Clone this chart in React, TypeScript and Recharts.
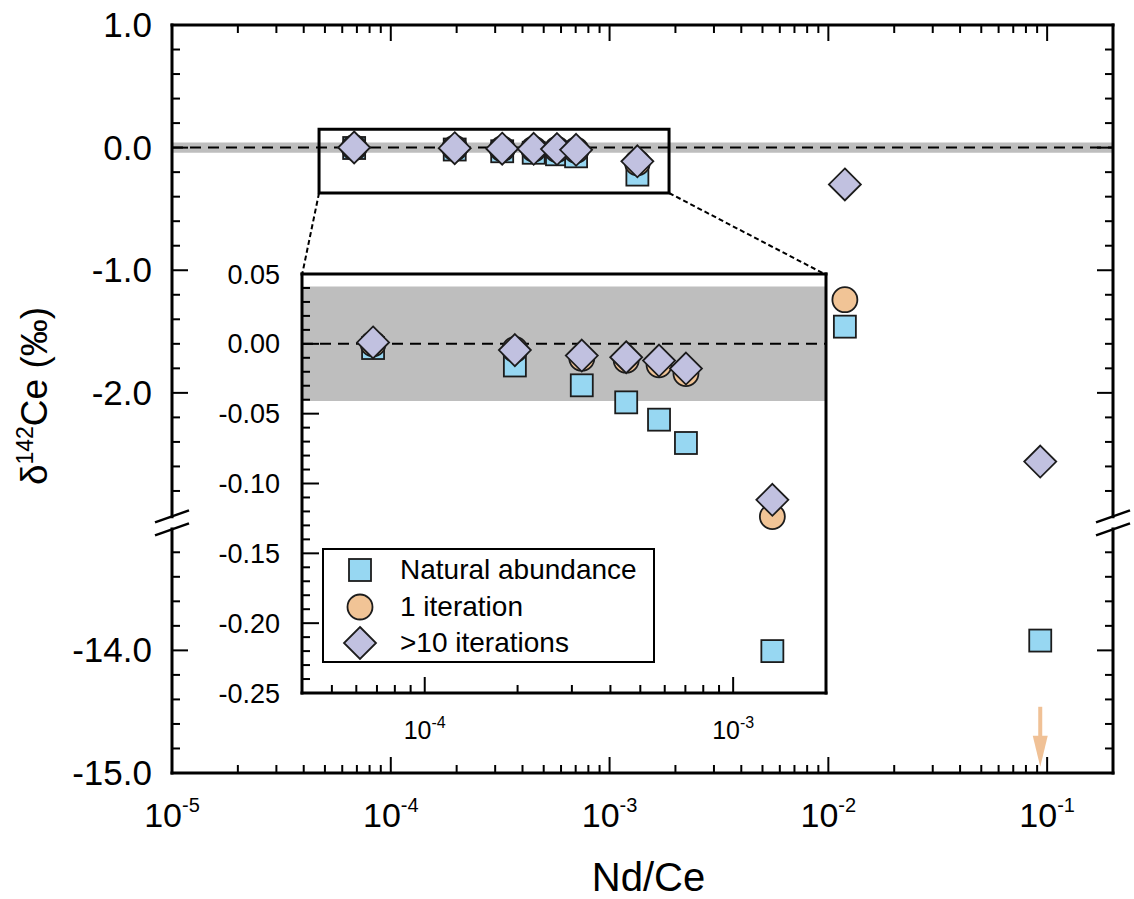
import React from 'react'
import { ScatterChart, Scatter, XAxis, YAxis, ReferenceArea, ReferenceLine, Legend, Label } from 'recharts'

const FONT = 'Arial, "Liberation Sans", Helvetica, sans-serif'

// Nd/Ce of the doped Ce standards
const ndCe = [6.8e-5, 1.96e-4, 3.23e-4, 4.5e-4, 5.75e-4, 7.03e-4, 1.34e-3, 1.19e-2, 9.3e-2]
// δ142Ce (‰) for each cleanup
const naturalAbundance = [-0.003, -0.0155, -0.0297, -0.0419, -0.0543, -0.071, -0.22, -1.46, -13.92]
const oneIteration = [0.0, -0.004, -0.0103, -0.0117, -0.015, -0.0213, -0.1237, -1.24, null]
const tenIterations = [0.001, -0.0045, -0.0084, -0.0096, -0.012, -0.0177, -0.1117, -0.3, -2.56]
// 1 iteration at the highest Nd/Ce is below -15 ‰ -> arrow
const offScaleX = [9.3e-2]
const offScaleY = [-14.46]

const bandHalf = 0.041 // external reproducibility

const xMajorMain = [1e-5, 1e-4, 1e-3, 1e-2, 1e-1]
const xMajorInset = [1e-4, 1e-3]
const minorMult = [2, 3, 4, 5, 6, 7, 8, 9]
const yMajorMain = [1, 0, -1, -2, -14, -15]
const yMinorMain = [0.8, 0.6, 0.4, 0.2, -0.2, -0.4, -0.6, -0.8, -1.2, -1.4, -1.6, -1.8, -2.2, -2.4, -2.6, -2.8,
  -13.2, -13.4, -13.6, -13.8, -14.2, -14.4, -14.6, -14.8]
const yMajorInset = [0.05, 0, -0.05, -0.1, -0.15, -0.2, -0.25]

const X_MAIN: [number, number] = [1e-5, 0.2]
const X_INSET: [number, number] = [4e-5, 2e-3]
const Y_INSET: [number, number] = [-0.25, 0.05]

// broken y axis: everything below -8 is shifted up by BREAK_GAP
const BREAK_GAP = 9.9
const BREAK_AT = -3.06
const BREAK_HALF = 0.05
const toDisp = (v: number) => (v < -8 ? v + BREAK_GAP : v)
const Y_MAIN: [number, number] = [toDisp(-15), 1]

// zoom box and where its connectors meet the inset (main data coords)
const zoomBox = { x1: 4.7e-5, x2: 1.87e-3, y1: -0.37, y2: 0.15 }
const insetTop = { xl: 3.93e-5, xr: 9.78e-3, y: -1.038 }

const C = { sq: '#97D7F2', ci: '#F1C496', di: '#C1C1E0', arrow: '#F0C196', band: '#BEBEBE', edge: '#1c1c1c' }

// layout
const MAIN = { w: 1134, h: 899, top: 25, left: 172, right: 21, bottom: 126 }
const MPW = MAIN.w - MAIN.left - MAIN.right
const MPH = MAIN.h - MAIN.top - MAIN.bottom
const INSET = { x: 200, y: 260, w: 628, h: 500, top: 14, left: 102, right: 2, bottom: 67 }
const IPH = INSET.h - INSET.top - INSET.bottom

const rows = (ys: (number | null)[], maxX = Infinity) =>
  ndCe
    .map((x, i) => (ys[i] == null || x > maxX ? null : { x, y: ys[i] as number, yd: toDisp(ys[i] as number) }))
    .filter(Boolean) as { x: number; y: number; yd: number }[]

const decadeTicks = (lo: number, hi: number, majors: number[]) => {
  const out = [...majors]
  for (let e = -6; e <= 0; e++) minorMult.forEach((m) => {
    const v = m * Math.pow(10, e)
    if (v > lo * 1.001 && v < hi * 0.999) out.push(v)
  })
  return out
}
const near = (a: number, b: number) => Math.abs(a - b) < 1e-6
const isMajorLog = (v: number, majors: number[]) => majors.some((m) => near(Math.log10(v), Math.log10(m)))

const Square = ({ cx, cy }: any) => (
  <rect x={cx - 11} y={cy - 11} width={22} height={22} fill={C.sq} stroke={C.edge} strokeWidth={1.8} />
)
const Circle = ({ cx, cy }: any) => <circle cx={cx} cy={cy} r={12.5} fill={C.ci} stroke={C.edge} strokeWidth={1.8} />
const Diamond = ({ cx, cy }: any) => (
  <path d={`M${cx},${cy - 16}L${cx + 16},${cy}L${cx},${cy + 16}L${cx - 16},${cy}Z`} fill={C.di} stroke={C.edge} strokeWidth={1.8} />
)
const Arrow = ({ cx, cy }: any) => (
  <g>
    <rect x={cx - 2} y={cy} width={4} height={31} fill={C.arrow} />
    <path d={`M${cx - 7.5},${cy + 29}L${cx + 7.5},${cy + 29}L${cx},${cy + 60}Z`} fill={C.arrow} />
  </g>
)

function MainXTick({ x, y, payload }: any) {
  const v = payload.value
  const major = isMajorLog(v, xMajorMain)
  const len = major ? 16 : 8
  return (
    <g>
      <line x1={x} x2={x} y1={y} y2={y - len} stroke="#000" strokeWidth={2} />
      <line x1={x} x2={x} y1={y - MPH} y2={y - MPH + len} stroke="#000" strokeWidth={2} />
      {major && (
        <text x={x} y={y + 54} textAnchor="middle" fontSize={34} fontFamily={FONT} fill="#000">
          10<tspan dy={-15} fontSize={20}>{Math.round(Math.log10(v))}</tspan>
        </text>
      )}
    </g>
  )
}

function MainYTick({ x, y, payload }: any) {
  const v = payload.value
  if (near(v, BREAK_AT)) {
    return (
      <g stroke="#000" strokeWidth={2.5}>
        {[x, x + MPW].map((sx) => (
          <g key={sx}>
            <line x1={sx - 17} y1={y - 6.5 + 6} x2={sx + 17} y2={y - 6.5 - 6} />
            <line x1={sx - 17} y1={y + 6.5 + 6} x2={sx + 17} y2={y + 6.5 - 6} />
          </g>
        ))}
      </g>
    )
  }
  const real = v < BREAK_AT ? v - BREAK_GAP : v
  const major = yMajorMain.some((m) => near(m, real))
  const len = major ? 16 : 8
  return (
    <g>
      <line x1={x} x2={x + len} y1={y} y2={y} stroke="#000" strokeWidth={2} />
      <line x1={x + MPW} x2={x + MPW - len} y1={y} y2={y} stroke="#000" strokeWidth={2} />
      {major && (
        <text x={x - 20} y={y + 12} textAnchor="end" fontSize={35} fontFamily={FONT} fill="#000">
          {real.toFixed(1)}
        </text>
      )}
    </g>
  )
}

function InsetXTick({ x, y, payload }: any) {
  const v = payload.value
  const major = isMajorLog(v, xMajorInset)
  return (
    <g>
      <line x1={x} x2={x} y1={y} y2={y - (major ? 16 : 8)} stroke="#000" strokeWidth={2} />
      {major && (
        <text x={x} y={y + 46} textAnchor="middle" fontSize={25} fontFamily={FONT} fill="#000">
          10<tspan dy={-11} fontSize={16}>{Math.round(Math.log10(v))}</tspan>
        </text>
      )}
    </g>
  )
}

function InsetYTick({ x, y, payload }: any) {
  const v = payload.value
  const major = yMajorInset.some((m) => near(m, v))
  return (
    <g>
      <line x1={x} x2={x + (major ? 17 : 8)} y1={y} y2={y} stroke="#000" strokeWidth={2} />
      {major && (
        <text x={x - 22} y={y + 9.5} textAnchor="end" fontSize={27} fontFamily={FONT} fill="#000">
          {v.toFixed(2)}
        </text>
      )}
    </g>
  )
}

const legendItems = [
  { name: 'Natural abundance', Shape: Square },
  { name: '1 iteration', Shape: Circle },
  { name: '>10 iterations', Shape: Diamond },
]

function InsetLegend() {
  return (
    <div style={{ border: '2.5px solid #000', background: '#fff', width: 333, height: 115, boxSizing: 'border-box', paddingTop: 2 }}>
      {legendItems.map(({ name, Shape }) => (
        <div key={name} style={{ display: 'flex', alignItems: 'center', height: 36.5 }}>
          <svg width={72} height={36} style={{ flex: 'none' }}>
            <Shape cx={36} cy={18} />
          </svg>
          <span style={{ fontFamily: FONT, fontSize: 28, color: '#000', marginLeft: 4, lineHeight: 1 }}>{name}</span>
        </div>
      ))}
    </div>
  )
}

const frame = (x0: number, x1: number, y0: number, y1: number, split?: [number, number]) => {
  const segs: { x: number; y: number }[][] = [
    [{ x: x0, y: y1 }, { x: x1, y: y1 }],
    [{ x: x0, y: y0 }, { x: x1, y: y0 }],
  ]
  ;[x0, x1].forEach((xx) => {
    if (split) {
      segs.push([{ x: xx, y: y1 }, { x: xx, y: split[1] }])
      segs.push([{ x: xx, y: split[0] }, { x: xx, y: y0 }])
    } else segs.push([{ x: xx, y: y1 }, { x: xx, y: y0 }])
  })
  return segs
}

export default function App() {
  const yMainTicks = [...yMajorMain, ...yMinorMain].map(toDisp).concat(BREAK_AT)
  const yInsetTicks = Array.from({ length: 31 }, (_, i) => Math.round((0.05 - i * 0.01) * 100) / 100)
  const mainSeg = frame(X_MAIN[0], X_MAIN[1], Y_MAIN[0], Y_MAIN[1], [BREAK_AT - BREAK_HALF, BREAK_AT + BREAK_HALF])
  const insetSeg = frame(X_INSET[0], X_INSET[1], Y_INSET[0], Y_INSET[1])
  const arrowRows = offScaleX.map((x, i) => ({ x, yd: toDisp(offScaleY[i]) }))

  return (
    <div style={{ position: 'absolute', left: 0, top: 0, width: MAIN.w, height: MAIN.h, background: '#fff' }}>
      <ScatterChart width={MAIN.w} height={MAIN.h} margin={{ top: MAIN.top, right: MAIN.right, left: 0, bottom: 0 }}>
        <XAxis dataKey="x" type="number" scale="log" domain={X_MAIN} allowDataOverflow ticks={decadeTicks(X_MAIN[0], X_MAIN[1], xMajorMain)}
          interval={0} height={MAIN.bottom} tickSize={0} tickMargin={0} tickLine={false} axisLine={false} tick={MainXTick}>
          <Label content={() => (
            <text x={MAIN.left + MPW / 2 + 6} y={891} textAnchor="middle" fontSize={40} fontFamily={FONT} fill="#000">Nd/Ce</text>
          )} />
        </XAxis>
        <YAxis dataKey="yd" type="number" domain={Y_MAIN} allowDataOverflow ticks={yMainTicks} interval={0}
          width={MAIN.left} tickSize={0} tickMargin={0} tickLine={false} axisLine={false} tick={MainYTick}>
          <Label content={() => (
            <text x={33} y={396 + 14} transform={`rotate(-90 33 396)`} textAnchor="middle" fontSize={37} fontFamily={FONT} fill="#000">
              δ<tspan dy={-14} fontSize={23}>142</tspan><tspan dy={14}>Ce (‰)</tspan>
            </text>
          )} />
        </YAxis>
        <ReferenceArea x1={X_MAIN[0]} x2={X_MAIN[1]} y1={-bandHalf} y2={bandHalf} fill={C.band} fillOpacity={1} stroke="none" ifOverflow="visible" />
        <ReferenceLine y={0} stroke="#000" strokeWidth={2} strokeDasharray="11 7" />
        <ReferenceArea x1={zoomBox.x1} x2={zoomBox.x2} y1={zoomBox.y1} y2={zoomBox.y2} fill="none" stroke="#000" strokeWidth={3} ifOverflow="visible" />
        <ReferenceLine segment={[{ x: zoomBox.x1, y: zoomBox.y1 }, { x: insetTop.xl, y: insetTop.y }]} stroke="#000" strokeWidth={2} strokeDasharray="5 3" ifOverflow="visible" />
        <ReferenceLine segment={[{ x: zoomBox.x2, y: zoomBox.y1 }, { x: insetTop.xr, y: insetTop.y }]} stroke="#000" strokeWidth={2} strokeDasharray="5 3" ifOverflow="visible" />
        {mainSeg.map((s, i) => (
          <ReferenceLine key={i} segment={s} stroke="#000" strokeWidth={3} strokeLinecap="square" ifOverflow="visible" />
        ))}
        <Scatter name="Natural abundance" data={rows(naturalAbundance)} shape={Square} isAnimationActive={false} />
        <Scatter name="1 iteration" data={rows(oneIteration)} shape={Circle} isAnimationActive={false} />
        <Scatter name="1 iteration off scale" data={arrowRows} shape={Arrow} isAnimationActive={false} />
        <Scatter name=">10 iterations" data={rows(tenIterations)} shape={Diamond} isAnimationActive={false} />
      </ScatterChart>

      <div style={{ position: 'absolute', left: INSET.x, top: INSET.y, width: INSET.w, height: INSET.h }}>
        <ScatterChart width={INSET.w} height={INSET.h} margin={{ top: INSET.top, right: INSET.right, left: 0, bottom: 0 }}>
          <XAxis dataKey="x" type="number" scale="log" domain={X_INSET} allowDataOverflow ticks={decadeTicks(X_INSET[0], X_INSET[1], xMajorInset)}
            interval={0} height={INSET.bottom} tickSize={0} tickMargin={0} tickLine={false} axisLine={false} tick={InsetXTick} />
          <YAxis dataKey="y" type="number" domain={Y_INSET} allowDataOverflow ticks={yInsetTicks} interval={0}
            width={INSET.left} tickSize={0} tickMargin={0} tickLine={false} axisLine={false} tick={InsetYTick} />
          <ReferenceArea x1={X_INSET[0]} x2={X_INSET[1]} y1={-bandHalf} y2={bandHalf} fill={C.band} fillOpacity={1} stroke="none" ifOverflow="visible" />
          <ReferenceLine y={0} stroke="#000" strokeWidth={2} strokeDasharray="11 7" />
          {insetSeg.map((s, i) => (
            <ReferenceLine key={i} segment={s} stroke="#000" strokeWidth={3} strokeLinecap="square" ifOverflow="visible" />
          ))}
          <Scatter name="Natural abundance" data={rows(naturalAbundance, X_INSET[1])} shape={Square} isAnimationActive={false} />
          <Scatter name="1 iteration" data={rows(oneIteration, X_INSET[1])} shape={Circle} isAnimationActive={false} />
          <Scatter name=">10 iterations" data={rows(tenIterations, X_INSET[1])} shape={Diamond} isAnimationActive={false} />
          <Legend layout="vertical" align="center" verticalAlign="middle" content={() => <InsetLegend />}
            wrapperStyle={{ position: 'absolute', left: 122, top: 288, width: 333, height: 115 }} />
        </ScatterChart>
      </div>
    </div>
  )
}
